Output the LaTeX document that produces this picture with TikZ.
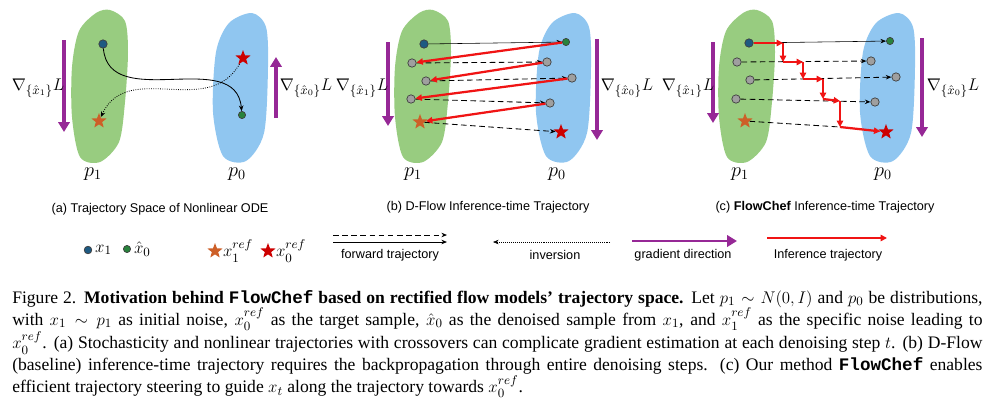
\documentclass[tikz,border=0pt]{standalone}
\usepackage{amsmath}
\usepackage{amssymb}
\usepackage{fontspec}
\setmainfont{Liberation Serif}
\setsansfont{Liberation Sans}
\setmonofont{Liberation Mono}
\usepackage{xcolor}
\usepackage{tikz}
\usetikzlibrary{shapes,arrows,positioning,calc,arrows.meta}

\definecolor{blobgreen}{RGB}{152,204,128}
\definecolor{blobblue}{RGB}{144,198,240}
\definecolor{gradpurple}{RGB}{150,40,150}
\definecolor{infred}{RGB}{240,20,20}
\definecolor{noiseblue}{RGB}{30,90,130}
\definecolor{predgreen}{RGB}{40,130,60}
\definecolor{refred}{RGB}{205,0,0}
\definecolor{reforange}{RGB}{205,95,40}

\tikzstyle{fwd} = [-{Stealth[length=4pt,width=3.2pt]}, thin, black]
\tikzstyle{fwddash} = [fwd, semithick, dash pattern=on 4pt off 2.5pt]
\tikzstyle{inv} = [-{Stealth[length=4pt,width=3.2pt]}, densely dotted, thin]
\tikzstyle{grad} = [-{Triangle[length=7pt,width=8pt]}, line width=2.2pt, gradpurple]
\tikzstyle{infer} = [-{Triangle[length=4.5pt,width=4.5pt]}, line width=1.6pt, infred]
\tikzstyle{sample} = [circle, draw=black!75, line width=0.5pt, inner sep=0pt, minimum size=0.21cm]
\tikzstyle{refstar} = [star, star points=5, star point ratio=2.4, inner sep=0pt, minimum size=0.4cm]

\begin{document}
\begin{tikzpicture}[x=0.025cm, y=-0.025cm]
    \useasboundingbox (0,0) rectangle (1000,410);

    % distributions p1 / p0
    \foreach \dx in {0,323,647} {
        \begin{scope}[shift={(\dx,0)}]
            \fill[blobgreen] plot[smooth cycle] coordinates {(110,10) (125,21) (128,52) (125,102) (119,142) (100,162) (80,157) (72,117) (72,67) (79,31) (96,13)};
            \fill[blobblue] plot[smooth cycle] coordinates {(252,13) (266,27) (268,67) (264,133) (246,161) (223,156) (213,112) (216,52) (229,23)};
        \end{scope}
    }

    % (a) nonlinear ODE
    \node[sample, fill=noiseblue] (ax1) at (103,44) {};
    \node[sample, fill=predgreen, minimum size=0.18cm] (ax0) at (242,115) {};
    \node[refstar, fill=refred] (asr) at (243,58) {};
    \node[refstar, fill=reforange] (asl) at (99,121) {};
    \draw[fwd, semithick] (ax1) to[out=-85, in=95, looseness=1.1] (ax0);
    \draw[inv, semithick] (asr) to[out=-120, in=65, looseness=1.1] (asl);
    \draw[grad] (64,40) -- (64,132);
    \draw[grad] (276,118) -- (276,57);
    \node[font=\fontsize{12.5}{14}\selectfont, inner sep=1pt] (agl) at (38,88) {$\nabla_{\{\hat{x}_1\}}L$};
    \node[font=\fontsize{12.5}{14}\selectfont, inner sep=1pt] (agr) at (306,88) {$\nabla_{\{\hat{x}_0\}}L$};
    \node[font=\fontsize{14}{16}\selectfont] (ap1) at (93,174) {$p_1$};
    \node[font=\fontsize{14}{16}\selectfont] (ap0) at (237,174) {$p_0$};
    \node[font=\sffamily\fontsize{9}{11}\selectfont] (acap) at (160,209) {(a) Trajectory Space of Nonlinear ODE};

    % (b) D-Flow
    \node[sample, fill=noiseblue] (bx1) at (424,44) {};
    \node[sample, fill=predgreen, minimum size=0.18cm] (bx0) at (566,42) {};
    \node[sample, fill=gray!75] (bl1) at (412,63) {};
    \node[sample, fill=gray!75] (bl2) at (426,81) {};
    \node[sample, fill=gray!75] (bl3) at (411,99) {};
    \node[refstar, fill=reforange] (bsl) at (420,122) {};
    \node[sample, fill=gray!75] (br1) at (547,62) {};
    \node[sample, fill=gray!75] (br2) at (572,78) {};
    \node[sample, fill=gray!75] (br3) at (550,103) {};
    \node[refstar, fill=refred] (bsr) at (561,132) {};
    \draw[fwd] (bx1) -- (bx0);
    \draw[fwddash] (bl1) -- (br1);
    \draw[fwddash] (bl2) -- (br2);
    \draw[fwddash] (bl3) -- (br3);
    \draw[fwddash] (bsl) -- (bsr);
    \draw[infer] (bx0) -- (bl1);
    \draw[infer] (br1) -- (bl2);
    \draw[infer] (br2) -- (bl3);
    \draw[infer] (br3) -- (bsl);
    \draw[grad] (388,42) -- (388,126);
    \draw[grad] (597,39) -- (597,140);
    \node[font=\fontsize{12.5}{14}\selectfont, inner sep=1pt] (bgl) at (362,88) {$\nabla_{\{\hat{x}_1\}}L$};
    \node[font=\fontsize{12.5}{14}\selectfont, inner sep=1pt] (bgr) at (627,88) {$\nabla_{\{\hat{x}_0\}}L$};
    \node[font=\fontsize{14}{16}\selectfont] (bp1) at (413,174) {$p_1$};
    \node[font=\fontsize{14}{16}\selectfont] (bp0) at (557,174) {$p_0$};
    \node[font=\sffamily\fontsize{9}{11}\selectfont] (bcap) at (488,207) {(b) D-Flow Inference-time Trajectory};

    % (c) FlowChef
    \node[sample, fill=noiseblue] (cx1) at (749,43) {};
    \node[sample, fill=predgreen, minimum size=0.18cm] (cx0) at (890,41) {};
    \node[sample, fill=gray!75] (cl1) at (737,62) {};
    \node[sample, fill=gray!75] (cl2) at (750,80) {};
    \node[sample, fill=gray!75] (cl3) at (736,99) {};
    \node[refstar, fill=reforange] (csl) at (745,121) {};
    \node[sample, fill=gray!75] (cr1) at (871,61) {};
    \node[sample, fill=gray!75] (cr2) at (896,77) {};
    \node[sample, fill=gray!75] (cr3) at (875,102) {};
    \node[refstar, fill=refred] (csr) at (886,132) {};
    \coordinate (cs1) at (783,43);
    \coordinate (cs2) at (783,62);
    \coordinate (cs3) at (803,62);
    \coordinate (cs4) at (803,79);
    \coordinate (cs5) at (823,79);
    \coordinate (cs6) at (823,99);
    \coordinate (cs7) at (840,101);
    \coordinate (cs8) at (840,127);
    \draw[fwd] (cx1) -- (cx0);
    \draw[fwddash] (cl1) -- (cr1);
    \draw[fwddash] (cl2) -- (cr2);
    \draw[fwddash] (cl3) -- (cr3);
    \draw[fwddash, -] (csl) -- (cs8);
    \draw[infer] (cx1) -- (cs1);
    \draw[infer] (cs1) -- (cs2);
    \draw[infer] (cs2) -- (cs3);
    \draw[infer] (cs3) -- (cs4);
    \draw[infer] (cs4) -- (cs5);
    \draw[infer] (cs5) -- (cs6);
    \draw[infer] (cs6) -- (cs7);
    \draw[infer] (cs7) -- (cs8);
    \draw[infer] (cs8) -- (csr);
    \draw[grad] (713,42) -- (713,123);
    \draw[grad] (922,38) -- (922,137);
    \node[font=\fontsize{12.5}{14}\selectfont, inner sep=1pt] (cgl) at (688,88) {$\nabla_{\{\hat{x}_1\}}L$};
    \node[font=\fontsize{12.5}{14}\selectfont, inner sep=1pt] (cgr) at (953,88) {$\nabla_{\{\hat{x}_0\}}L$};
    \node[font=\fontsize{14}{16}\selectfont] (cp1) at (740,174) {$p_1$};
    \node[font=\fontsize{14}{16}\selectfont] (cp0) at (883,174) {$p_0$};
    \node[font=\sffamily\fontsize{9}{11}\selectfont] (ccap) at (825,207) {(c) \textbf{FlowChef} Inference-time Trajectory};

    % Legend
    \node[sample, fill=noiseblue, minimum size=0.19cm] (lx1) at (88,250) {};
    \node[font=\fontsize{13}{15}\selectfont, right=0pt of lx1, inner sep=2pt] (lx1t) {$x_1$};
    \node[sample, fill=predgreen, minimum size=0.18cm] (lx0) at (127,249) {};
    \node[font=\fontsize{13}{15}\selectfont, right=0pt of lx0, inner sep=2pt] (lx0t) {$\hat{x}_0$};
    \node[refstar, fill=reforange] (lsl) at (215,251) {};
    \node[font=\fontsize{13}{15}\selectfont, right=0pt of lsl, inner sep=2pt] (lslt) {$x_1^{ref}$};
    \node[refstar, fill=refred] (lsr) at (268,251) {};
    \node[font=\fontsize{13}{15}\selectfont, right=0pt of lsr, inner sep=2pt] (lsrt) {$x_0^{ref}$};
    \coordinate (lf1a) at (333,235);
    \coordinate (lf1b) at (447,235);
    \coordinate (lf2a) at (333,242);
    \coordinate (lf2b) at (447,242);
    \draw[fwddash] (lf1a) -- (lf1b);
    \draw[fwd, semithick] (lf2a) -- (lf2b);
    \node[font=\sffamily\fontsize{9}{11}\selectfont] (lft) at (390,255) {forward trajectory};
    \coordinate (lia) at (610,242);
    \coordinate (lib) at (493,242);
    \draw[inv] (lia) -- (lib);
    \node[font=\sffamily\fontsize{9}{11}\selectfont] (lit) at (555,255) {inversion};
    \coordinate (lga) at (632,241);
    \coordinate (lgb) at (737,241);
    \draw[grad, line width=2pt] (lga) -- (lgb);
    \node[font=\sffamily\fontsize{9}{11}\selectfont] (lgt) at (683,255) {gradient direction};
    \coordinate (lra) at (767,238);
    \coordinate (lrb) at (887,238);
    \draw[infer, line width=1.2pt] (lra) -- (lrb);
    \node[font=\sffamily\fontsize{9}{11}\selectfont] (lrt) at (828,255) {Inference trajectory};

    % Caption
    \node[anchor=north west, inner sep=0pt, text width=24.25cm, align=justify, font=\fontsize{12.5}{15.6}\selectfont] (caption) at (12,290) {Figure 2. \textbf{Motivation behind \texttt{FlowChef} based on rectified flow models' trajectory space.} Let $p_1 \sim N(0,I)$ and $p_0$ be distributions,\linebreak
    with $x_1 \sim p_1$ as initial noise, $x_0^{ref}$ as the target sample, $\hat{x}_0$ as the denoised sample from $x_1$, and $x_1^{ref}$ as the specific noise leading to\linebreak
    $x_0^{ref}$. (a) Stochasticity and nonlinear trajectories with crossovers can complicate gradient estimation at each denoising step $t$. (b) D-Flow\linebreak
    (baseline) inference-time trajectory requires the backpropagation through entire denoising steps. (c) Our method \texttt{\textbf{FlowChef}} enables\linebreak
    efficient trajectory steering to guide $x_t$ along the trajectory towards $x_0^{ref}$.};
\end{tikzpicture}
\end{document}
